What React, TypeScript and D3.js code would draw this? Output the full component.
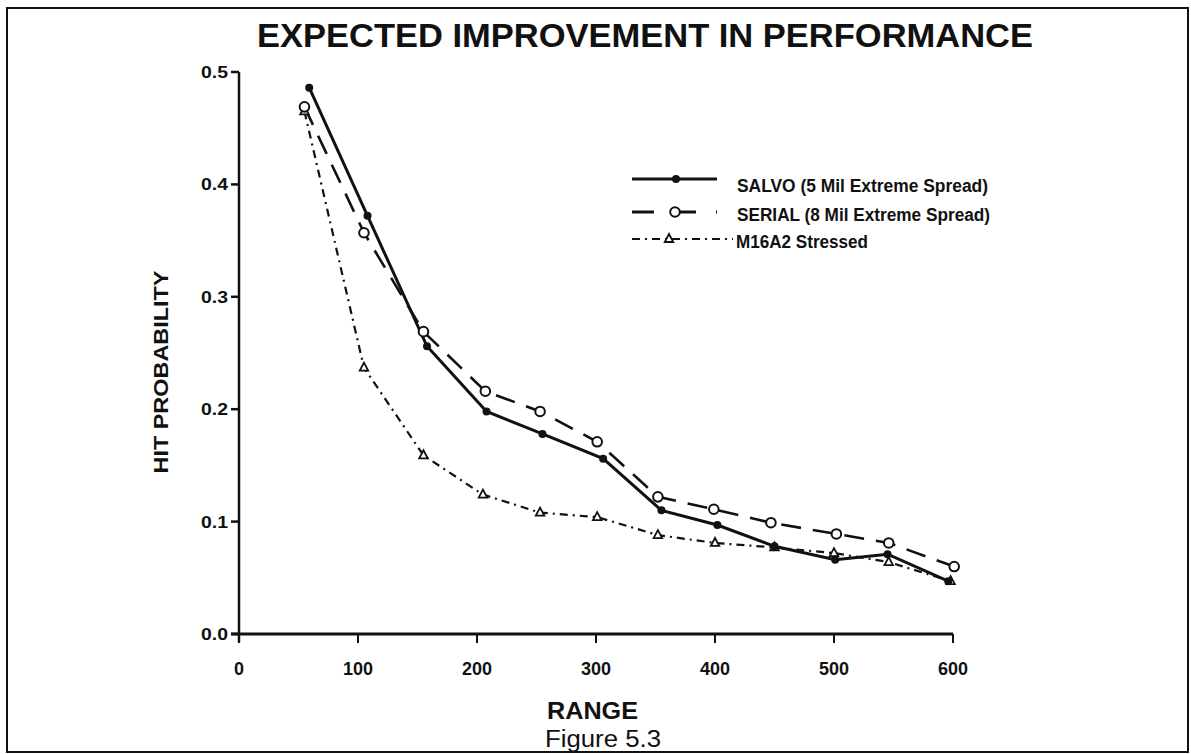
import React from 'react';
import * as d3 from 'd3';

// values
const xTicks = [0, 100, 200, 300, 400, 500, 600];
const yTicks = [0.0, 0.1, 0.2, 0.3, 0.4, 0.5];

const salvoRange = [59, 108, 158, 208, 255, 306, 355, 402, 450, 501, 545, 596];
const salvoHit = [0.486, 0.372, 0.256, 0.198, 0.178, 0.156, 0.11, 0.097, 0.078, 0.066, 0.071, 0.047];

const serialRange = [55, 105, 155, 207, 253, 301, 352, 399, 447, 502, 546, 601];
const serialHit = [0.469, 0.357, 0.269, 0.216, 0.198, 0.171, 0.122, 0.111, 0.099, 0.089, 0.081, 0.06];

const m16Range = [55, 105, 155, 205, 253, 301, 352, 400, 450, 500, 546, 598];
const m16Hit = [0.465, 0.237, 0.159, 0.124, 0.108, 0.104, 0.088, 0.081, 0.077, 0.072, 0.064, 0.047];

const legendLabels = ['SALVO (5 Mil Extreme Spread)', 'SERIAL (8 Mil Extreme Spread)', 'M16A2 Stressed'];

const W = 1191;
const H = 754;
const font = '"Liberation Sans", Arial, Helvetica, sans-serif';

const zip = (xs: number[], ys: number[]) => xs.map((x, i) => [x, ys[i]] as [number, number]);

export default function App() {
  const x = d3.scaleLinear().domain([0, 600]).range([239, 953]);
  const y = d3.scaleLinear().domain([0, 0.5]).range([634, 72]);

  const line = d3
    .line<[number, number]>()
    .x(d => x(d[0]))
    .y(d => y(d[1]));

  const salvo = zip(salvoRange, salvoHit);
  const serial = zip(serialRange, serialHit);
  const m16 = zip(m16Range, m16Hit);

  const tri = (cx: number, cy: number, s: number) =>
    `M${cx},${cy - s} L${cx + s * 0.85},${cy + s * 0.6} L${cx - s * 0.85},${cy + s * 0.6} Z`;

  return (
    <div style={{ position: 'absolute', left: 0, top: 0 }}>
      <svg width={W} height={H} style={{ display: 'block', background: '#fff' }}>
        {/* frame */}
        <rect x={7} y={8} width={1181} height={744} fill="none" stroke="#111" strokeWidth={2} />

        {/* title */}
        <text
          x={257}
          y={47}
          fontFamily={font}
          fontWeight="bold"
          fontSize={33}
          textLength={776}
          lengthAdjust="spacingAndGlyphs"
          fill="#111"
        >
          EXPECTED IMPROVEMENT IN PERFORMANCE
        </text>

        {/* y axis */}
        <line x1={x(0)} x2={x(0)} y1={y(0.5)} y2={y(0) + 8} stroke="#111" strokeWidth={2.5} />
        {yTicks.map(t => (
          <g key={t}>
            <line x1={x(0) - 8} x2={x(0)} y1={y(t)} y2={y(t)} stroke="#111" strokeWidth={2.5} />
            <text
              x={x(0) - 11}
              y={y(t) + 6}
              textAnchor="end"
              fontFamily={font}
              fontWeight="bold"
              fontSize={17}
              textLength={27}
              lengthAdjust="spacingAndGlyphs"
              fill="#111"
            >
              {t.toFixed(1)}
            </text>
          </g>
        ))}

        {/* x axis */}
        <line x1={x(0) - 8} x2={x(600)} y1={y(0)} y2={y(0)} stroke="#111" strokeWidth={3} />
        {xTicks.map(t => (
          <g key={t}>
            <line x1={x(t)} x2={x(t)} y1={y(0)} y2={y(0) + 9} stroke="#111" strokeWidth={2} />
            <text
              x={x(t)}
              y={y(0) + 41}
              textAnchor="middle"
              fontFamily={font}
              fontWeight="bold"
              fontSize={18}
              fill="#111"
            >
              {t}
            </text>
          </g>
        ))}

        {/* axis titles */}
        <text
          transform="translate(168,372) rotate(-90)"
          textAnchor="middle"
          fontFamily={font}
          fontWeight="bold"
          fontSize={21}
          textLength={203}
          lengthAdjust="spacingAndGlyphs"
          fill="#111"
        >
          HIT PROBABILITY
        </text>
        <text x={547} y={719} fontFamily={font} fontWeight="bold" fontSize={23} textLength={91} lengthAdjust="spacingAndGlyphs" fill="#111">
          RANGE
        </text>
        <text x={545} y={747} fontFamily={font} fontSize={23} textLength={116} lengthAdjust="spacingAndGlyphs" fill="#111">
          Figure 5.3
        </text>

        {/* series */}
        <path d={line(m16) || ''} fill="none" stroke="#111" strokeWidth={2.2} strokeDasharray="8,5,2,5" />
        <path d={line(serial) || ''} fill="none" stroke="#111" strokeWidth={2.6} strokeDasharray="20,12" />
        <path d={line(salvo) || ''} fill="none" stroke="#111" strokeWidth={3} />

        {m16.map((d, i) => (
          <path key={'m' + i} d={tri(x(d[0]), y(d[1]), 5)} fill="#fff" stroke="#111" strokeWidth={1.8} />
        ))}
        {serial.map((d, i) => (
          <circle key={'s' + i} cx={x(d[0])} cy={y(d[1])} r={4.8} fill="#fff" stroke="#111" strokeWidth={2} />
        ))}
        {salvo.map((d, i) => (
          <circle key={'v' + i} cx={x(d[0])} cy={y(d[1])} r={4} fill="#111" />
        ))}

        {/* legend */}
        <g fontFamily={font} fontWeight="bold" fontSize={17.5} fill="#111">
          <line x1={632} x2={717} y1={179} y2={179} stroke="#111" strokeWidth={3} />
          <circle cx={676} cy={179} r={4} fill="#111" />
          <text x={737} y={192} textLength={251} lengthAdjust="spacingAndGlyphs">
            {legendLabels[0]}
          </text>

          <line x1={632} x2={717} y1={212} y2={212} stroke="#111" strokeWidth={3} strokeDasharray="22,20" />
          <circle cx={675} cy={212} r={4.8} fill="#fff" stroke="#111" strokeWidth={2} />
          <text x={737} y={221} textLength={253} lengthAdjust="spacingAndGlyphs">
            {legendLabels[1]}
          </text>

          <line x1={632} x2={733} y1={239} y2={239} stroke="#111" strokeWidth={2.2} strokeDasharray="8,5,2,5" />
          <path d={tri(669, 239, 5)} fill="#fff" stroke="#111" strokeWidth={1.8} />
          <text x={736} y={248} textLength={132} lengthAdjust="spacingAndGlyphs">
            {legendLabels[2]}
          </text>
        </g>
      </svg>
    </div>
  );
}
